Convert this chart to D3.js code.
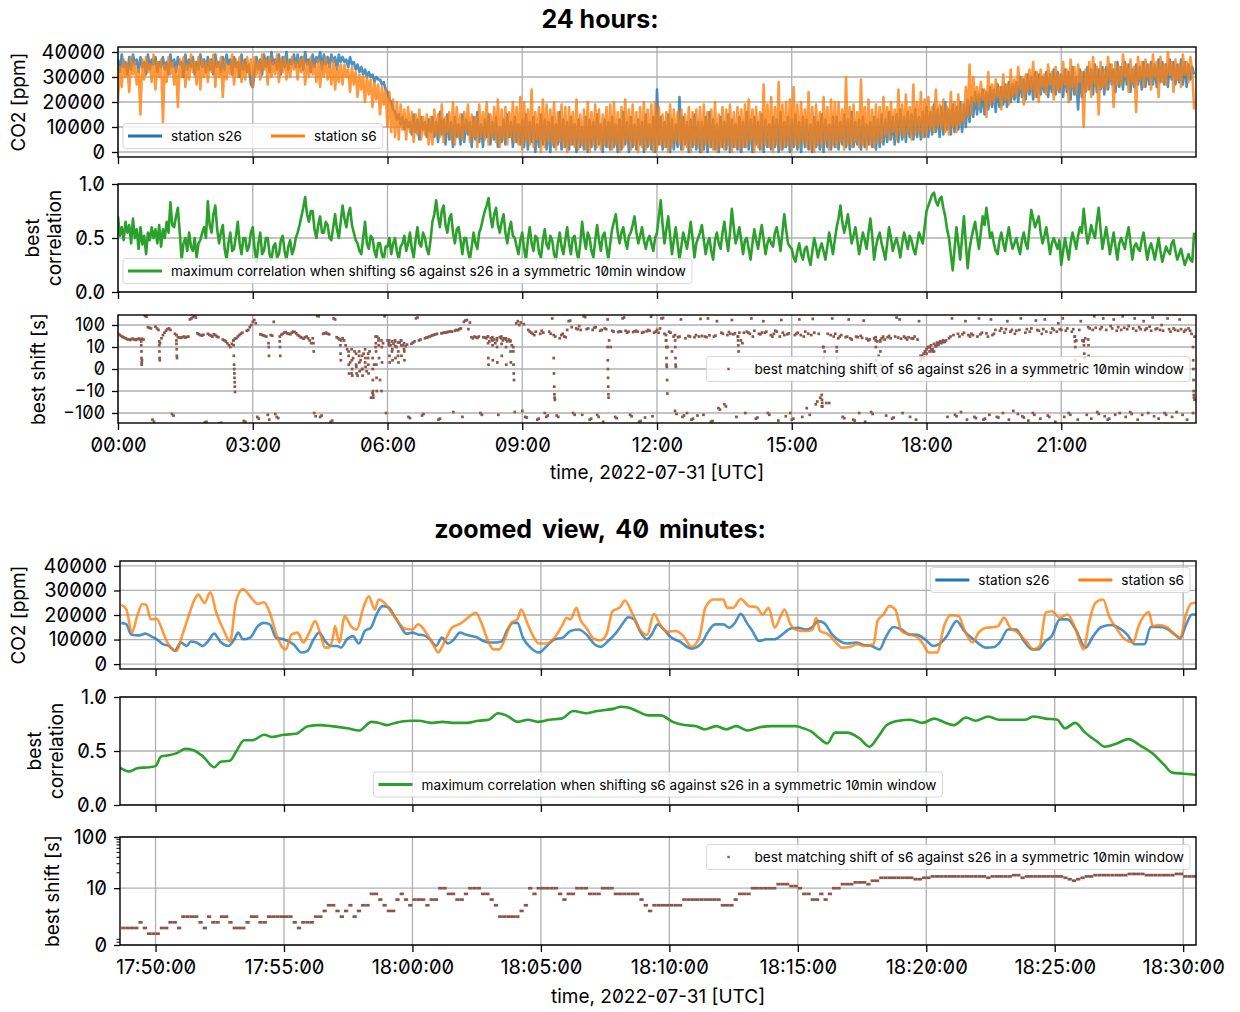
<!DOCTYPE html>
<html>
<head>
<meta charset="utf-8">
<script src="https://cdn.jsdelivr.net/npm/d3@7"></script>
<style>
  body { margin: 0; background: #fff; }
  svg text { font-family: Inter, "DejaVu Sans", sans-serif; font-feature-settings: "zero" 1; fill: #000; }
</style>
</head>
<body>
<svg id="chart" width="1240" height="1012"></svg>
<script>
// ---------------- data ----------------
// 24 h of CO2 (thousands of ppm), one value every 2.5 minutes from 00:00 UTC
const dayStepMin = 2.5;
const s26DayKppm = [
  37,32,39,34,36,31,38,33,39,35,37,32,38,34,36,31,39,33,37,35,38,32,36,34,
  38,33,36,31,39,34,37,32,38,35,36,30,39,33,37,34,38,31,36,33,39,34,37,32,
  38,33,37,31,39,34,36,32,38,33,39,35,37,31,38,34,36,30,39,33,37,32,35,27,
  26,32,38,33,37,31,39,34,38,32,40,35,37,33,39,31,38,34,40,33,37,35,39,34,
  39,34,38,33,40,35,37,32,39,34,38,36,40,33,39,35,38,34,39,36,38,33,39,36,
  38,36,37,34,38,35,36,33,35,32,34,31,33,30,32,30,31,28,30,29,29,27,28,25,
  24,21,20,17,16,13,15,11,14,9,13,10,12,7,15,8,13,5,14,9,12,6,13,8,
  14,6,12,4,16,7,13,3,15,5,12,2,14,6,11,3,15,4,13,7,12,2,14,5,
  16,4,11,2,13,6,15,3,12,5,14,2,10,4,13,3,15,6,12,2,14,4,11,3,
  13,2,15,1,12,4,14,0,11,2,15,3,13,1,12,0,14,2,11,3,16,1,13,2,
  12,1,14,3,11,0,13,2,10,1,14,0,13,2,12,1,15,3,11,0,13,2,12,1,
  14,2,11,0,13,1,16,3,12,0,14,2,11,1,13,3,12,0,15,2,11,1,14,0,
  25,3,14,1,12,2,15,0,13,1,11,2,22,1,14,3,12,0,13,2,15,1,12,0,
  12,1,14,0,16,2,13,1,11,0,14,2,12,1,15,0,13,2,11,1,14,0,12,2,
  16,1,13,0,14,3,12,1,15,0,13,2,11,1,14,2,13,0,16,1,12,2,14,0,
  13,2,15,1,12,0,14,2,13,1,11,0,14,2,12,1,15,0,13,2,11,1,14,2,
  14,1,12,3,15,2,13,1,16,2,12,3,13,1,14,2,11,3,12,2,14,1,13,2,
  15,3,13,4,16,5,14,3,15,4,17,5,14,4,16,6,15,5,17,6,14,5,16,6,
  18,6,16,7,19,8,17,6,18,7,20,9,17,7,19,8,18,9,20,8,19,10,21,12,
  22,14,24,15,23,16,25,15,24,17,26,18,25,16,27,18,26,19,27,18,28,20,27,21,
  28,20,30,22,29,21,31,23,30,21,32,22,31,23,30,24,32,22,31,24,33,23,32,24,
  31,22,33,24,32,21,34,23,30,17,33,22,32,24,34,25,33,23,35,24,33,25,34,23,
  34,25,35,27,33,24,36,26,34,25,36,27,35,24,33,26,35,27,34,25,36,26,35,27,
  36,27,35,26,37,28,36,27,35,26,37,29,36,27,35,28,37,27,36,26,35,29,34,31
];
const s6DayKppm = [
  21,34,26,37,30,35,24,38,31,36,27,33,15,37,29,38,32,35,28,39,25,36,30,37,
  12,35,28,38,31,36,27,34,18,37,30,38,26,35,29,39,32,36,27,38,25,37,30,36,
  28,37,32,39,26,36,30,38,22,37,29,35,31,39,27,37,30,38,28,36,29,38,31,37,
  26,38,31,36,29,39,33,37,27,38,30,36,31,39,28,37,32,38,29,36,30,38,33,36,
  29,37,32,38,27,36,30,38,31,35,28,37,26,36,30,38,29,35,27,37,25,34,28,35,
  27,35,30,33,24,34,27,32,22,31,25,30,20,30,23,29,18,28,21,27,15,26,19,25,
  10,24,8,21,6,20,5,19,9,17,5,18,8,16,4,15,7,17,5,14,7,15,3,14,
  3,17,7,15,6,19,4,14,8,16,5,20,3,18,6,15,5,16,8,19,4,15,6,14,
  2,19,6,16,5,20,3,15,6,18,4,21,2,17,5,18,3,16,6,20,4,18,3,22,
  1,20,4,17,3,25,2,16,5,18,0,21,2,19,4,17,3,20,1,16,4,19,2,18,
  0,18,3,16,2,21,1,15,3,17,1,20,0,16,3,19,2,17,1,15,3,18,2,19,
  1,20,3,16,0,18,2,21,4,17,1,19,3,16,0,18,2,20,1,17,3,19,0,20,
  1,18,3,15,2,16,0,19,2,17,4,16,3,17,1,15,2,18,0,16,3,17,2,18,
  0,19,3,16,2,17,1,20,0,15,2,18,1,17,3,19,0,16,2,18,1,17,2,19,
  2,21,4,17,0,18,2,16,1,27,3,19,2,22,0,18,3,28,1,19,2,20,3,21,
  1,26,3,19,2,20,4,17,2,24,1,18,0,19,3,16,2,22,4,18,1,21,3,20,
  2,20,4,17,1,30,3,18,2,19,4,16,2,29,3,18,1,21,3,17,2,19,4,18,
  4,22,7,18,5,20,8,17,5,25,7,19,6,23,8,18,5,27,7,20,8,24,6,21,
  7,22,9,18,8,25,10,19,9,21,8,18,7,24,10,20,8,23,11,19,12,26,14,35,
  15,30,20,26,18,28,21,25,14,32,19,27,20,29,22,26,17,31,21,27,19,33,22,29,
  22,34,25,30,19,31,24,33,25,36,22,32,20,33,26,31,23,35,27,32,21,34,25,31,
  24,36,27,33,20,37,26,34,23,35,28,32,10,33,25,36,22,38,27,34,15,36,26,33,
  25,38,29,35,18,36,27,34,27,39,30,35,24,37,28,34,16,38,29,36,26,37,30,35,
  25,39,30,36,22,38,28,35,27,40,31,36,24,37,29,35,26,39,31,36,28,38,32,17
];
// best correlation, every 2.5 minutes
const corrDay = [
  .70,.52,.60,.48,.65,.55,.62,.45,.68,.50,.58,.40,.60,.44,.52,.35,.55,.48,.60,.50,.58,.45,.62,.42,
  .58,.50,.65,.55,.83,.62,.60,.70,.78,.55,.30,.45,.50,.38,.55,.42,.38,.50,.32,.45,.48,.55,.60,.50,
  .84,.62,.55,.72,.80,.58,.45,.55,.62,.40,.30,.45,.55,.38,.40,.52,.65,.45,.35,.50,.50,.38,.42,.55,
  .60,.40,.28,.45,.55,.35,.38,.50,.50,.35,.30,.42,.45,.32,.35,.48,.52,.38,.30,.42,.48,.35,.40,.50,
  .55,.62,.70,.78,.88,.72,.65,.75,.75,.58,.50,.62,.70,.55,.55,.65,.62,.50,.48,.60,.72,.58,.50,.65,
  .80,.68,.60,.72,.78,.62,.55,.48,.45,.38,.35,.50,.65,.45,.40,.52,.50,.38,.32,.45,.45,.35,.30,.42,
  .42,.50,.35,.45,.50,.38,.30,.42,.45,.52,.38,.45,.55,.40,.32,.48,.60,.45,.42,.55,.50,.40,.35,.48,
  .65,.72,.85,.70,.60,.75,.80,.62,.55,.68,.72,.55,.45,.58,.60,.48,.35,.50,.50,.38,.30,.42,.55,.45,
  .40,.55,.60,.68,.75,.80,.87,.70,.60,.72,.78,.62,.55,.65,.72,.55,.45,.58,.65,.52,.50,.42,.35,.48,
  .55,.40,.30,.48,.60,.45,.38,.52,.50,.36,.32,.48,.58,.44,.40,.52,.48,.35,.30,.45,.55,.42,.35,.48,
  .60,.45,.35,.50,.52,.38,.30,.45,.65,.50,.40,.55,.50,.38,.32,.48,.62,.48,.38,.52,.55,.42,.30,.45,
  .58,.65,.72,.55,.45,.55,.60,.48,.40,.52,.55,.62,.70,.55,.45,.52,.60,.48,.40,.48,.52,.45,.38,.50,
  .55,.70,.85,.62,.45,.58,.70,.52,.35,.48,.60,.45,.30,.42,.55,.48,.40,.52,.65,.50,.32,.45,.50,.55,
  .62,.48,.35,.45,.50,.38,.30,.48,.55,.45,.40,.55,.65,.50,.38,.55,.77,.60,.45,.52,.60,.48,.35,.48,
  .50,.40,.30,.45,.58,.48,.40,.52,.62,.48,.35,.45,.50,.45,.42,.55,.60,.50,.38,.55,.72,.58,.45,.42,
  .40,.32,.28,.38,.45,.35,.30,.40,.42,.32,.25,.38,.50,.42,.32,.40,.45,.38,.30,.42,.55,.45,.35,.48,
  .60,.68,.80,.65,.55,.62,.72,.58,.45,.52,.60,.48,.35,.45,.55,.48,.40,.55,.68,.52,.30,.42,.50,.55,
  .45,.38,.30,.45,.60,.50,.38,.45,.50,.42,.32,.45,.55,.48,.40,.52,.48,.40,.35,.45,.55,.50,.45,.60,
  .75,.80,.85,.90,.92,.84,.80,.86,.88,.78,.70,.58,.50,.35,.20,.40,.60,.45,.30,.50,.70,.45,.22,.40,
  .50,.58,.65,.52,.40,.55,.70,.62,.78,.65,.50,.55,.45,.38,.35,.48,.55,.45,.38,.50,.60,.48,.40,.45,
  .50,.42,.35,.48,.55,.45,.40,.58,.76,.68,.60,.65,.70,.55,.45,.52,.60,.48,.35,.45,.50,.45,.40,.48,
  .25,.38,.50,.40,.30,.45,.55,.48,.40,.52,.60,.55,.77,.60,.45,.52,.62,.55,.50,.65,.78,.58,.40,.50,
  .60,.48,.35,.45,.55,.42,.30,.45,.50,.45,.40,.52,.60,.45,.30,.42,.45,.40,.38,.48,.55,.42,.30,.40,
  .45,.38,.30,.40,.50,.38,.28,.35,.42,.38,.35,.45,.48,.38,.30,.35,.40,.32,.25,.30,.35,.30,.28,.55
];
// best shift in seconds, every 2 minutes
const shiftDayStepMin = 2;
const shiftDay = [
  40,36,32,29,27,25,23,22,21,23,24,22,21,23,24,22,24,22,260,240,80,75,70,-200,-250,85,70,60,15,25,
  35,45,55,65,70,60,-110,-130,40,35,28,27,26,28,30,27,29,30,180,200,230,250,220,42,38,35,33,36,-270,-250,
  40,36,33,30,38,35,30,28,-290,-280,22,20,18,15,12,10,14,20,24,25,30,35,40,45,-230,-250,55,60,80,100,
  140,170,120,-150,-180,38,36,34,32,30,-120,-200,35,33,140,-110,-150,-170,30,36,40,45,48,42,40,38,45,50,48,42,
  35,32,28,26,24,28,30,25,20,15,25,-100,-140,260,250,-150,-130,40,42,45,40,38,-250,-220,200,180,28,25,22,20,
  25,20,12,9,6,3,-2,5,8,2,-3,6,4,0,7,3,-1,5,8,-20,-12,2,10,30,20,-5,-10,15,250,-100,
  20,15,12,8,14,18,10,6,16,20,12,9,11,13,-150,-170,14,16,18,200,220,20,22,-130,-110,25,27,28,30,32,
  34,36,38,40,-200,-180,42,44,46,45,48,50,52,50,-90,55,60,58,65,70,-150,140,160,170,65,130,28,25,30,28,
  26,30,-100,-120,28,27,25,30,18,25,20,22,15,20,-120,28,25,20,25,22,18,22,18,12,8,-90,120,150,100,130,
  -80,110,-150,-160,60,50,45,40,35,50,-200,-180,40,55,45,-100,-150,-130,50,40,200,35,30,-130,-150,25,35,40,30,28,
  60,150,160,80,-100,-120,70,65,90,60,-120,250,230,65,70,-200,-180,60,75,80,-120,-150,55,60,-250,70,65,180,20,10,
  55,50,-150,-170,48,52,50,200,220,55,45,50,-120,-140,48,52,55,50,-250,-230,45,48,-160,52,60,55,240,-140,45,50,
  60,45,70,200,210,40,20,10,50,45,8,30,-80,-110,28,30,180,-150,-130,25,-100,32,30,-200,-180,28,35,-130,30,190,
  32,-120,30,28,200,34,-250,-230,30,33,150,-60,-70,45,40,-40,-50,35,48,40,170,38,42,-150,30,45,20,15,45,-100,
  50,45,40,200,30,55,-180,-160,40,38,45,150,45,50,-100,-120,35,30,40,55,50,-220,30,170,45,35,-140,38,42,-100,
  -200,-180,35,40,45,180,35,-150,30,50,-60,40,-120,35,190,45,-40,-30,40,-20,-50,10,8,-35,40,-35,35,200,30,40,
  8,25,30,35,-150,-170,28,30,180,25,22,-200,-220,30,28,-100,32,26,160,-250,24,20,22,-90,-110,25,28,18,6,20,
  25,30,22,-130,28,32,25,-180,-160,30,220,27,180,24,-100,30,26,22,28,-150,25,24,30,-200,22,150,6,5,7,8,
  9,10,10,9,8,8,11,12,15,16,17,17,18,20,-150,25,30,200,35,-120,-140,40,30,-90,38,45,150,-200,35,30,
  40,35,-150,-170,30,200,38,45,-200,-180,42,30,-120,180,35,40,60,-150,-160,55,70,-100,45,65,150,-200,50,60,-80,40,
  55,-110,60,200,-140,-160,45,65,-220,50,70,-100,-120,160,60,55,-180,40,65,180,50,-130,-150,45,70,60,-250,50,120,65,
  60,200,-150,55,70,-100,-120,50,65,30,20,-200,60,150,20,18,25,-120,80,70,-180,60,250,75,-90,-110,65,80,200,-140,
  60,-200,-180,90,70,180,-120,55,80,-100,60,250,75,-150,65,90,-90,-110,70,200,55,-200,80,65,-120,150,60,70,-100,85,
  55,220,-140,65,70,-180,60,100,55,-100,-120,200,65,50,-150,70,60,-90,55,180,65,-120,50,60,-200,70,55,40,-100,30
];
// short, steep excursions of the best shift: [minutes after 00:00, seconds]
const shiftDayBursts = [
  [31,18],[31,12],[31.3,8],[31.3,5],[31.6,3],[31.6,2],[32,4],
  [55,18],[55,12],[55.3,8],[55.5,5],[55.8,4],
  [78,20],[78,14],[78.3,9],[78.5,6],[78.8,5],
  [154,20],[154.3,12],[154.6,6],[155,2],[155.2,0],[155.4,-2],[155.6,-4],[155.8,-6],[156,-8],[156.2,-11],
  [201,15],[201.3,10],[201.6,6],[216,18],[216.3,10],[216.6,6],
  [261,15],[261.4,8],[297,12],[297.3,7],[297.6,4],
  [308,8],[308.3,2],[308.6,-2],[312,9],[312.3,4],[312.6,0],[312.9,-3],[318,7],[318.3,1],[318.6,-2],
  [322,8],[322.4,3],[322.8,-1],[326,6],[326.3,0],[326.6,-3],[330,9],[330.3,5],[330.6,1],[334,7],[334.3,2],[334.6,-2],
  [340,5],[340.2,0],[340.4,-5],[340.6,-10],[340.8,-15],[341,-20],
  [344,30],[344.3,15],[344.6,8],[345,2],[345.3,-4],[345.6,-10],[348,25],[348.3,12],[348.6,5],[352,20],[352.3,10],[352.6,3],
  [362,20],[362.3,12],[362.6,6],[362.9,3],[366,18],[366.3,9],[366.6,4],[370,20],[370.3,11],[370.6,5],
  [374,16],[374.3,8],[374.6,3],[378,20],[378.3,12],[378.6,6],[382,15],[382.3,8],[382.6,4],
  [494,30],[494.3,15],[494.6,5],[494.9,2],[500,28],[500.3,12],[500.6,4],[506,25],[506.3,10],[506.6,3],
  [512,30],[512.3,14],[512.6,6],[518,25],[518.3,10],[518.6,2],[524,20],[524.3,8],[524.6,3],
  [528,10],[528.3,2],[528.6,-2],[528.9,-5],
  [582,5],[582.3,-2],[582.6,-8],[582.9,-14],[583.2,-20],[583.5,-25],
  [654,10],[654.2,4],[654.4,0],[654.6,-4],[654.8,-8],[655,-14],[655.2,-20],
  [732,35],[732.2,20],[732.4,10],[732.6,5],[732.8,2],[733,1],[733.4,-5],[733.8,-13],
  [744,35],[744.2,20],[744.4,10],[744.6,5],[744.8,2],[745,1],
  [828,30],[828.3,20],[828.6,12],[828.9,8],
  [940,-15],[940.3,-25],[940.6,-35],[940.9,-50],[942,10],[942.3,5],[942.6,2],[942.9,1],
  [960,10],[960.3,5],[960.6,2],[960.9,1],
  [1012,20],[1012.3,10],[1012.6,4],[1012.9,0],[1013.2,-3],[1018,18],[1018.3,8],[1018.6,2],
  [1072,4],[1074,6],[1076,5],[1078,8],[1080,7],[1082,10],[1084,8],[1086,12],[1088,9],[1090,14],
  [1092,11],[1094,16],[1096,13],[1098,18],[1100,15],[1102,20],[1104,17],
  [1278,30],[1278.3,18],[1278.6,10],[1278.9,4],[1279.2,0],[1279.5,-2],
  [1290,20],[1290.3,12],[1290.6,7],[1290.9,5],[1296,22],[1296.3,12],[1296.6,6],
  [1436,10],[1436.2,4],[1436.4,0],[1436.6,-5],[1436.8,-10],[1437,-15],[1437.2,-20],[1438,-25]
];

// zoomed window: [seconds after 17:50:00 UTC, value]
const zoomS26 = [
  [-80,16.8],[-68,16.2],[-57,12.1],[-38,11.7],[-24,12.4],[-11,11.4],[3,10.1],[17,8.1],[31,7.4],[45,5.4],
  [59,8.8],[73,7.4],[82,9.2],[96,8.8],[110,7.4],[123,9.4],[137,12.4],[151,9.2],[170,7.4],[184,10.1],
  [193,12.8],[204,10.1],[221,10.8],[239,15.5],[253,16.8],[267,16.2],[281,10.8],[299,10.1],[322,8.1],[341,4.7],
  [355,5.4],[368,9.7],[382,12.8],[396,9.4],[410,7.4],[424,7.4],[433,6.7],[447,10.1],[461,11.4],[475,8.4],
  [489,13.5],[503,14.8],[516,20.2],[530,23.6],[544,23.2],[558,19.5],[572,15.5],[586,12.4],[600,12.8],[613,12.1],
  [627,11.7],[641,10.1],[655,7.4],[669,10.8],[683,8.4],[697,10.1],[711,12.8],[724,12.1],[738,11.4],[752,10.8],
  [766,9.4],[780,8.8],[794,8.8],[808,9.2],[822,14.1],[835,16.8],[845,16.8],[858,10.8],[877,6.5],[895,4.7],
  [914,7.4],[932,10.1],[951,10.8],[969,13.5],[988,14.1],[1006,12.1],[1025,8.1],[1039,7.0],[1057,9.4],[1076,12.8],
  [1090,16.2],[1104,19.1],[1118,18.2],[1131,13.5],[1148,10.1],[1159,12.1],[1173,16.2],[1187,14.1],[1205,10.8],[1224,9.2],
  [1252,6.3],[1275,8.4],[1289,12.8],[1307,16.2],[1326,16.2],[1340,14.8],[1353,16.8],[1367,20.5],[1381,16.8],[1395,13.2],
  [1409,9.4],[1427,10.1],[1446,10.1],[1464,12.1],[1483,14.5],[1501,14.8],[1520,14.1],[1534,15.1],[1548,17.5],[1561,16.8],
  [1580,12.1],[1598,9.4],[1617,8.4],[1635,8.8],[1654,7.8],[1672,7.4],[1691,6.0],[1705,10.8],[1723,15.1],[1742,14.1],
  [1760,12.1],[1779,11.9],[1797,10.1],[1816,7.4],[1830,8.1],[1848,11.4],[1871,17.5],[1890,13.2],[1913,9.7],[1940,6.7],
  [1959,7.0],[1973,9.2],[1991,14.1],[2010,14.1],[2028,9.4],[2047,6.0],[2061,6.0],[2079,9.4],[2093,11.4],[2112,18.2],
  [2130,18.2],[2149,14.1],[2172,6.7],[2190,11.4],[2209,15.1],[2232,15.9],[2250,14.8],[2269,12.1],[2287,8.1],[2310,8.1],
  [2324,15.1],[2343,15.1],[2361,14.5],[2380,12.1],[2393,10.5],[2407,16.2],[2421,20.2],[2431,20.2]
];
const zoomS6 = [
  [-80,24.2],[-68,22.2],[-55,12.8],[-43,19.5],[-31,24.5],[-22,24.2],[-11,18.2],[3,18.5],[12,15.5],[26,9.4],
  [40,6.0],[49,5.4],[63,12.1],[77,19.5],[91,26.3],[100,28.3],[114,24.9],[128,29.2],[142,20.9],[160,13.5],
  [174,9.2],[188,25.6],[204,30.6],[221,27.6],[239,24.5],[253,25.2],[267,20.9],[281,12.8],[294,7.4],[304,6.0],
  [318,12.1],[332,12.8],[345,8.8],[359,12.8],[373,17.5],[385,12.1],[396,6.7],[405,6.7],[415,11.4],[419,15.5],
  [429,8.8],[442,19.5],[456,15.5],[470,14.1],[484,22.2],[498,27.6],[512,22.2],[521,26.3],[535,24.9],[549,21.5],
  [563,18.2],[581,14.5],[600,14.1],[613,16.2],[637,11.4],[650,7.4],[660,4.7],[674,8.8],[692,14.8],[711,16.4],
  [734,19.5],[748,20.9],[761,16.8],[775,10.1],[789,6.0],[803,6.0],[817,10.8],[831,16.8],[845,18.2],[854,22.2],
  [868,16.8],[882,11.4],[895,8.4],[914,8.4],[932,10.8],[951,16.2],[960,18.9],[969,18.2],[983,22.9],[992,18.2],
  [1006,14.8],[1025,10.1],[1039,9.7],[1053,12.1],[1067,21.5],[1085,23.2],[1096,25.9],[1113,20.9],[1131,14.1],[1148,11.9],
  [1164,20.5],[1178,16.2],[1196,13.2],[1215,13.5],[1233,11.4],[1252,7.0],[1270,10.8],[1284,22.9],[1303,26.3],[1326,26.3],
  [1335,22.9],[1349,22.9],[1367,26.5],[1386,23.6],[1404,23.2],[1418,20.2],[1432,22.9],[1446,14.8],[1460,19.5],[1469,22.2],
  [1483,16.2],[1501,13.7],[1520,13.5],[1534,14.1],[1543,18.9],[1552,13.5],[1571,12.1],[1589,8.8],[1603,6.7],[1621,7.0],
  [1640,8.1],[1654,7.4],[1677,8.1],[1686,17.5],[1700,20.2],[1714,23.6],[1728,22.2],[1742,13.5],[1760,12.1],[1779,11.0],
  [1793,8.1],[1806,4.7],[1825,4.7],[1843,16.2],[1857,19.9],[1876,19.5],[1890,13.5],[1908,8.8],[1922,12.8],[1940,14.8],
  [1959,15.1],[1968,15.5],[1982,18.9],[1996,14.8],[2014,12.8],[2033,9.4],[2051,6.0],[2065,7.4],[2079,20.9],[2093,21.5],
  [2112,18.9],[2130,20.2],[2149,14.1],[2167,6.0],[2181,17.5],[2195,24.9],[2213,26.3],[2227,19.5],[2246,14.1],[2264,10.1],
  [2283,8.8],[2296,15.5],[2320,21.2],[2329,15.5],[2343,15.9],[2361,15.1],[2380,12.1],[2393,10.8],[2407,20.5],[2421,24.9],
  [2431,24.9]
];
const zoomCorr = [
  [-85,.35],[-61,.31],[-43,.34],[-15,.35],[0,.36],[13,.45],[31,.46],[50,.48],[69,.52],[87,.51],
  [111,.45],[137,.35],[152,.40],[174,.41],[189,.50],[207,.60],[226,.60],[254,.65],[272,.63],[300,.65],
  [328,.66],[356,.73],[383,.74],[411,.73],[448,.71],[476,.69],[504,.77],[522,.76],[541,.74],[559,.76],
  [596,.78],[615,.78],[643,.76],[670,.77],[698,.76],[726,.76],[754,.78],[778,.79],[800,.85],[819,.83],
  [846,.77],[870,.79],[893,.77],[920,.79],[948,.80],[976,.87],[1004,.85],[1032,.87],[1050,.88],[1069,.89],
  [1087,.91],[1106,.90],[1124,.87],[1152,.83],[1180,.83],[1208,.77],[1235,.74],[1263,.73],[1282,.70],[1309,.73],
  [1333,.70],[1356,.73],[1383,.69],[1411,.72],[1439,.73],[1467,.73],[1495,.73],[1513,.71],[1532,.68],[1550,.62],
  [1569,.57],[1587,.67],[1615,.67],[1643,.62],[1667,.54],[1689,.64],[1708,.74],[1735,.78],[1763,.79],[1791,.76],
  [1819,.80],[1846,.76],[1865,.74],[1893,.81],[1915,.78],[1945,.82],[1970,.79],[2004,.79],[2032,.79],[2050,.82],
  [2078,.80],[2106,.79],[2124,.71],[2148,.76],[2171,.67],[2198,.59],[2217,.54],[2245,.57],[2272,.61],[2300,.55],
  [2328,.48],[2356,.37],[2374,.30],[2402,.29],[2430,.28]
];
// best shift in the zoomed window, every 10 s starting 80 s before 17:50:00
const zoomShiftStartSec = -80, zoomShiftStepSec = 10;
const zoomShift = [
  3,3,3,3,4,3,2,2,2,3, 3,4,4,3,5,5,5,5,4,3, 5,4,4,5,5,4,3,3,3,4, 5,5,4,4,5,5,5,5,5,5,
  4,3,4,4,4,5,5,6,7,7, 6,5,6,7,5,6,7,7,9,9, 8,7,6,6,8,9,8,7,8,8, 8,7,8,8,10,10,9,9,8,8,
  9,10,10,10,9,9,8,7,5,5, 5,5,5,6,7,10,9,10,10,10, 10,10,9,8,9,9,10,10,10,9, 9,9,10,10,10,9,9,9,9,9,
  9,8,7,6,7,7,7,7,7,7, 7,8,8,8,8,8,8,8,8,8, 7,7,7,8,9,9,9,10,10,10, 10,10,10,12,12,12,11,11,10,9,
  9,8,8,9,8,9,10,10,12,12, 12,13,13,13,12,14,14,16,16,16, 16,16,16,16,16,15,15,16,16,17, 17,17,17,17,17,17,17,17,17,17,
  17,17,16,17,17,17,17,17,18,18, 16,17,17,17,17,17,17,17,17,17, 16,15,14,15,16,17,17,18,18,18, 18,18,18,18,18,19,19,19,19,18,
  18,18,18,18,18,18,19,19,17,17, 17,17,17
];

// axis ticks and limits
const dayTickHours = [0, 3, 6, 9, 12, 15, 18, 21];
const zoomTickClock = ["17:50:00","17:55:00","18:00:00","18:05:00","18:10:00","18:15:00","18:20:00","18:25:00","18:30:00"];
const co2Ticks = [0, 10000, 20000, 30000, 40000];
const co2Limits = [-2000, 42000];
const corrTicks = [0, 0.5, 1];
const shiftDayTicks = [-100, -10, 0, 10, 100];
const shiftDayLimit = 285;
const shiftZoomTicks = [0, 10, 100];
const shiftZoomMinor = [0.5, 1, 20, 30, 40, 50, 60, 70, 80, 90];
const shiftZoomLimits = [0, 100];

// ---------------- helpers ----------------
const C = { s26: "#1f77b4", s6: "#ff7f0e", corr: "#2ca02c", shift: "#8c564b", grid: "#b0b0b0" };
const DAY0 = Date.UTC(2022, 6, 31);
const ZOOM0 = Date.UTC(2022, 6, 31, 17, 50, 0);
const dayTime = (i, stepMin) => new Date(DAY0 + i * stepMin * 60000);
const minuteTime = m => new Date(DAY0 + m * 60000);
const zoomTime = sec => new Date(ZOOM0 + sec * 1000);
const clockTime = s => { const [h, m, sec] = s.split(":").map(Number); return new Date(DAY0 + ((h * 60 + m) * 60 + sec) * 1000); };

// symmetric log transform: linear inside +-10, logarithmic outside
const LINTHRESH = 10;
function symT(v, linscale) {
  const a = Math.abs(v);
  const t = a <= LINTHRESH ? a / LINTHRESH * linscale : linscale + Math.log10(a / LINTHRESH);
  return v < 0 ? -t : t;
}
const symDay = v => symT(v, 1);
const symZoom = v => symT(v, 1 / (1 - 1 / 10));

const svg = d3.select("#chart");
let clipCount = 0;

function makePanel(box) {
  const id = "clip" + (++clipCount);
  svg.append("clipPath").attr("id", id).append("rect")
    .attr("x", box.x0).attr("y", box.y0).attr("width", box.x1 - box.x0).attr("height", box.y1 - box.y0);
  const g = svg.append("g");
  return Object.assign({ g, clip: `url(#${id})` }, box);
}

function styleAxis(ax, size) {
  ax.attr("font-family", null).attr("font-size", null);
  ax.select(".domain").remove();
  ax.selectAll(".tick line").attr("stroke", "#000").attr("stroke-width", 1.3);
  ax.selectAll(".tick text").style("font-size", size + "px");
}

function gridX(p, x, ticks) {
  p.g.append("g").selectAll("line").data(ticks).join("line")
    .attr("x1", d => x(d)).attr("x2", d => x(d)).attr("y1", p.y0).attr("y2", p.y1)
    .attr("stroke", C.grid).attr("stroke-width", 1.3);
}
function gridY(p, yPos) {
  p.g.append("g").selectAll("line").data(yPos).join("line")
    .attr("x1", p.x0).attr("x2", p.x1).attr("y1", d => d).attr("y2", d => d)
    .attr("stroke", C.grid).attr("stroke-width", 1.3);
}
function frame(p) {
  p.g.append("rect").attr("x", p.x0).attr("y", p.y0).attr("width", p.x1 - p.x0).attr("height", p.y1 - p.y0)
    .attr("fill", "none").attr("stroke", "#000").attr("stroke-width", 1.4);
}
function xAxis(p, x, ticks, fmt) {
  const ax = p.g.append("g").attr("transform", `translate(0,${p.y1})`)
    .call(d3.axisBottom(x).tickValues(ticks).tickSize(7).tickPadding(8).tickFormat(fmt || (() => "")));
  styleAxis(ax, 20);
}
function yAxis(p, y, ticks, fmt, size) {
  const ax = p.g.append("g").attr("transform", `translate(${p.x0},0)`)
    .call(d3.axisLeft(y).tickValues(ticks).tickSize(6).tickPadding(7).tickFormat(fmt));
  styleAxis(ax, size || 20);
  return ax;
}
function yLabel(p, lines, xBase, gap) {
  const cy = (p.y0 + p.y1) / 2;
  const t = svg.append("text").attr("transform", `translate(${xBase},${cy}) rotate(-90)`)
    .attr("text-anchor", "middle").style("font-size", "19px");
  lines.forEach((s, i) => t.append("tspan").attr("x", 0).attr("dy", i === 0 ? 0 : gap).text(s));
}
function xLabel(p, text, baseline) {
  svg.append("text").attr("x", (p.x0 + p.x1) / 2).attr("y", baseline).attr("text-anchor", "middle")
    .style("font-size", "19px").text(text);
}

// legend: items {kind:'line'|'dot', color, label}; anchor 'left' | 'right' | 'center'
function legend(items, anchor, xRef, yTop) {
  const g = svg.append("g");
  const box = g.append("rect").attr("rx", 3).attr("ry", 3)
    .attr("fill", "#fff").attr("fill-opacity", 0.8).attr("stroke", "#ccc").attr("stroke-opacity", 0.8);
  const h = 25, pad = 5, handle = 34, gapText = 9, gapItem = 29;
  let cx = pad;
  items.forEach((it, i) => {
    const ig = g.append("g");
    if (it.kind === "line") {
      ig.append("line").attr("x1", cx).attr("x2", cx + handle).attr("y1", h / 2).attr("y2", h / 2)
        .attr("stroke", it.color).attr("stroke-width", 3);
    } else {
      ig.append("rect").attr("x", cx + handle / 2 - 1.2).attr("y", h / 2 - 1.2).attr("width", 2.4).attr("height", 2.4)
        .attr("fill", it.color);
    }
    const tx = ig.append("text").attr("x", cx + handle + gapText).attr("y", h / 2 + 5).style("font-size", "13.6px").text(it.label);
    const tw = tx.node().getComputedTextLength();
    cx += handle + gapText + tw + (i < items.length - 1 ? gapItem : 0);
  });
  const w = cx + 6;
  const x0 = anchor === "right" ? xRef - w : anchor === "center" ? xRef - w / 2 : xRef;
  box.attr("width", w).attr("height", h);
  g.attr("transform", `translate(${x0},${yTop})`);
}

// ---------------- panels and scales ----------------
const P1 = makePanel({ x0: 118, x1: 1196, y0: 47, y1: 157 });
const P2 = makePanel({ x0: 118, x1: 1196, y0: 184, y1: 292 });
const P3 = makePanel({ x0: 118, x1: 1196, y0: 315, y1: 423 });
const P4 = makePanel({ x0: 120, x1: 1196, y0: 561, y1: 669 });
const P5 = makePanel({ x0: 120, x1: 1196, y0: 697, y1: 805 });
const P6 = makePanel({ x0: 120, x1: 1196, y0: 837, y1: 945 });

const xDay = d3.scaleUtc().domain([new Date(DAY0), new Date(DAY0 + 86400000)]).range([P1.x0, P1.x1]);
const xZoom = d3.scaleUtc().domain([zoomTime(-83), zoomTime(2430)]).range([P4.x0, P4.x1]);
const dayTicks = dayTickHours.map(h => new Date(DAY0 + h * 3600000));
const zoomTicks = zoomTickClock.map(clockTime);

const yCo2Day = d3.scaleLinear().domain(co2Limits).range([P1.y1, P1.y0]);
const yCorrDay = d3.scaleLinear().domain([0, 1]).range([P2.y1, P2.y0]);
const yShiftDayT = d3.scaleLinear().domain([-symDay(shiftDayLimit), symDay(shiftDayLimit)]).range([P3.y1, P3.y0]);
const yCo2Zoom = d3.scaleLinear().domain(co2Limits).range([P4.y1, P4.y0]);
const yCorrZoom = d3.scaleLinear().domain([0, 1]).range([P5.y1, P5.y0]);
const yShiftZoomT = d3.scaleLinear().domain(shiftZoomLimits.map(symZoom)).range([P6.y1, P6.y0]);

const fmtInt = d3.format("d");
const fmtCorr = d3.format(".1f");

// ---------------- titles ----------------
svg.append("text").attr("x", 600).attr("y", 28).attr("text-anchor", "middle")
  .style("font-size", "25px").style("font-weight", "700").text("24 hours:");
svg.append("text").attr("x", 600).attr("y", 538).attr("text-anchor", "middle")
  .style("font-size", "25px").style("font-weight", "700").style("word-spacing", "4px").text("zoomed view, 40 minutes:");

// ---------------- panel 1: CO2, 24 h ----------------
gridX(P1, xDay, dayTicks);
gridY(P1, co2Ticks.map(yCo2Day));
const lineDay = arr => d3.line().x((d, i) => xDay(dayTime(i, dayStepMin))).y(d => yCo2Day(d * 1000))(arr);
P1.g.append("g").attr("clip-path", P1.clip).selectAll("path")
  .data([[s26DayKppm, C.s26], [s6DayKppm, C.s6]]).join("path")
  .attr("d", d => lineDay(d[0])).attr("fill", "none").attr("stroke", d => d[1])
  .attr("stroke-width", 2.6).attr("stroke-opacity", 0.8).attr("stroke-linejoin", "round");
frame(P1);
xAxis(P1, xDay, dayTicks);
yAxis(P1, yCo2Day, co2Ticks, fmtInt);
yLabel(P1, ["CO2 [ppm]"], 25, 0);
legend([{ kind: "line", color: C.s26, label: "station s26" }, { kind: "line", color: C.s6, label: "station s6" }], "left", 123, 123.5);

// ---------------- panel 2: correlation, 24 h ----------------
gridX(P2, xDay, dayTicks);
gridY(P2, corrTicks.map(yCorrDay));
P2.g.append("path").attr("clip-path", P2.clip)
  .attr("d", d3.line().x((d, i) => xDay(dayTime(i, dayStepMin))).y(d => yCorrDay(d))(corrDay))
  .attr("fill", "none").attr("stroke", C.corr).attr("stroke-width", 2.6).attr("stroke-linejoin", "round");
frame(P2);
xAxis(P2, xDay, dayTicks);
yAxis(P2, yCorrDay, corrTicks, fmtCorr);
yLabel(P2, ["best", "correlation"], 39, 22);
legend([{ kind: "line", color: C.corr, label: "maximum correlation when shifting s6 against s26 in a symmetric 10min window" }], "left", 123, 258.5);

// ---------------- panel 3: shift, 24 h ----------------
gridX(P3, xDay, dayTicks);
gridY(P3, shiftDayTicks.map(v => yShiftDayT(symDay(v))));
const shiftDayPts = shiftDay.map((v, i) => [dayTime(i, shiftDayStepMin), v])
  .concat(shiftDayBursts.map(d => [minuteTime(d[0]), d[1]]));
P3.g.append("g").attr("clip-path", P3.clip).selectAll("rect").data(shiftDayPts).join("rect")
  .attr("x", d => xDay(d[0]) - 1.3)
  .attr("y", d => yShiftDayT(symDay(d[1])) - 1.3)
  .attr("width", 2.7).attr("height", 2.7).attr("fill", C.shift);
frame(P3);
xAxis(P3, xDay, dayTicks, d3.utcFormat("%H:%M"));
const dayTickT = shiftDayTicks.map(symDay);
yAxis(P3, yShiftDayT, dayTickT, t => fmtInt(shiftDayTicks[dayTickT.indexOf(t)]), 18);
yLabel(P3, ["best shift [s]"], 45, 0);
xLabel(P3, "time, 2022-07-31 [UTC]", 479);
legend([{ kind: "dot", color: C.shift, label: "best matching shift of s6 against s26 in a symmetric 10min window" }], "right", 1190, 356.5);

// ---------------- panel 4: CO2, zoomed ----------------
gridX(P4, xZoom, zoomTicks);
gridY(P4, co2Ticks.map(yCo2Zoom));
const lineZoom = (y, scaleV) => d3.line().curve(d3.curveMonotoneX).x(d => xZoom(zoomTime(d[0]))).y(d => y(d[1] * scaleV));
P4.g.append("g").attr("clip-path", P4.clip).selectAll("path")
  .data([[zoomS26, C.s26], [zoomS6, C.s6]]).join("path")
  .attr("d", d => lineZoom(yCo2Zoom, 1000)(d[0])).attr("fill", "none").attr("stroke", d => d[1])
  .attr("stroke-width", 2.6).attr("stroke-opacity", 0.8).attr("stroke-linejoin", "round");
frame(P4);
xAxis(P4, xZoom, zoomTicks);
yAxis(P4, yCo2Zoom, co2Ticks, fmtInt);
yLabel(P4, ["CO2 [ppm]"], 25, 0);
legend([{ kind: "line", color: C.s26, label: "station s26" }, { kind: "line", color: C.s6, label: "station s6" }], "right", 1190, 567.5);

// ---------------- panel 5: correlation, zoomed ----------------
gridX(P5, xZoom, zoomTicks);
gridY(P5, corrTicks.map(yCorrZoom));
P5.g.append("path").attr("clip-path", P5.clip)
  .attr("d", lineZoom(yCorrZoom, 1)(zoomCorr))
  .attr("fill", "none").attr("stroke", C.corr).attr("stroke-width", 2.6);
frame(P5);
xAxis(P5, xZoom, zoomTicks);
yAxis(P5, yCorrZoom, corrTicks, fmtCorr);
yLabel(P5, ["best", "correlation"], 41, 22);
legend([{ kind: "line", color: C.corr, label: "maximum correlation when shifting s6 against s26 in a symmetric 10min window" }], "center", (P5.x0 + P5.x1) / 2, 772);

// ---------------- panel 6: shift, zoomed ----------------
gridX(P6, xZoom, zoomTicks);
gridY(P6, shiftZoomTicks.map(v => yShiftZoomT(symZoom(v))));
const stepW = xZoom(zoomTime(zoomShiftStepSec)) - xZoom(zoomTime(0));
P6.g.append("g").attr("clip-path", P6.clip).selectAll("rect").data(zoomShift).join("rect")
  .attr("x", (d, i) => xZoom(zoomTime(zoomShiftStartSec + i * zoomShiftStepSec)))
  .attr("y", d => yShiftZoomT(symZoom(d)) - 1.3)
  .attr("width", stepW).attr("height", 2.7).attr("fill", C.shift);
frame(P6);
xAxis(P6, xZoom, zoomTicks, d3.utcFormat("%H:%M:%S"));
const zoomTickT = shiftZoomTicks.map(symZoom);
yAxis(P6, yShiftZoomT, zoomTickT, t => fmtInt(shiftZoomTicks[zoomTickT.indexOf(t)]));
P6.g.append("g").selectAll("line").data(shiftZoomMinor).join("line")
  .attr("x1", P6.x0 - 3.5).attr("x2", P6.x0)
  .attr("y1", d => yShiftZoomT(symZoom(d))).attr("y2", d => yShiftZoomT(symZoom(d)))
  .attr("stroke", "#000").attr("stroke-width", 1);
yLabel(P6, ["best shift [s]"], 59, 0);
xLabel(P6, "time, 2022-07-31 [UTC]", 1003);
legend([{ kind: "dot", color: C.shift, label: "best matching shift of s6 against s26 in a symmetric 10min window" }], "right", 1190, 844.5);
</script>
</body>
</html>
